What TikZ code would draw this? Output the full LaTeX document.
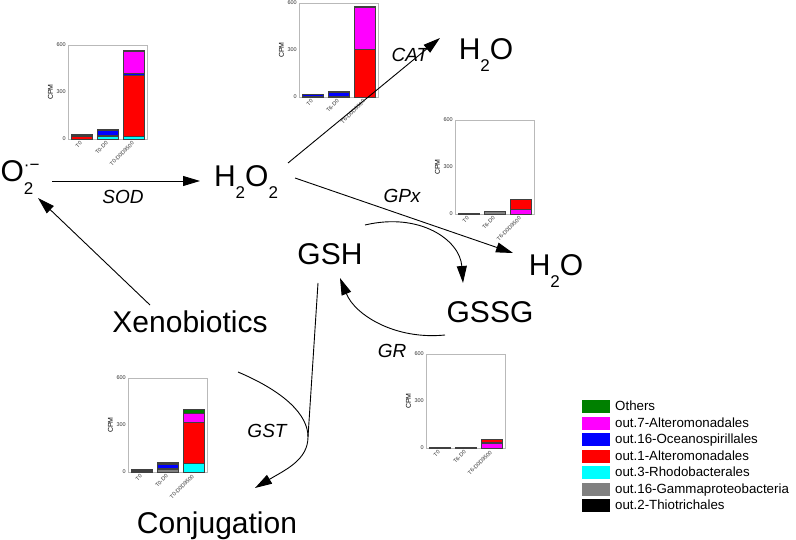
\documentclass[tikz,border=0pt]{standalone}
\usepackage{fontspec}
\setmainfont{Liberation Sans}
\usepackage{xcolor}
\definecolor{OtuGreen}{RGB}{0,128,0}
\definecolor{OtuMagenta}{RGB}{255,0,255}
\definecolor{OtuBlue}{RGB}{0,0,255}
\definecolor{OtuRed}{RGB}{255,0,0}
\definecolor{OtuCyan}{RGB}{0,255,255}
\definecolor{OtuGray}{RGB}{128,128,128}
\usetikzlibrary{positioning}
\usetikzlibrary{arrows.meta}

\newcommand{\lowtxt}[2][12pt]{\raisebox{-#1}{\fontsize{17}{17}\selectfont #2}}
\newcommand{\hightxt}[1]{\raisebox{11pt}{\fontsize{17}{17}\selectfont #1}}

\newcommand{\cpmchart}[4]{%
  \begin{scope}[shift={#2}, y=0.1567pt]
    \draw[plotframe] (0,0) rectangle (79,600);
    \node[cpm] (#1-cpm) at (-17.5,300) {CPM};
    \foreach \v in {0,300,600}
      \node[ticklab] (#1-t\v) at (-1,\v) {\v};
    \foreach \bx/\lo/\hi/\col in {#4}
      \filldraw[barseg, fill=\col] (\bx,\lo) rectangle (\bx+21,\hi);
    \node[samp] (#1-s1) at ([yshift=-3pt]13.5,0) {T0};
    \node[samp] (#1-s2) at ([yshift=-3pt]39.5,0) {#3-D0};
    \node[samp] (#1-s3) at ([yshift=-3pt]65.5,0) {#3-D0D9500};
  \end{scope}}

\begin{document}
\begin{tikzpicture}[
      , x=1pt, y=-1pt
      , chem/.style={font=\fontsize{30}{36}\selectfont, inner sep=0pt, anchor=base}
      , enz/.style={font=\fontsize{19}{22}\selectfont\itshape, inner sep=0pt}
      , rxn/.style={-{Triangle[length=17pt,width=10pt]}, line width=0.9pt}
      , plotframe/.style={draw=gray!55, line width=0.8pt, fill=white}
      , barseg/.style={draw=black!75, line width=0.4pt}
      , ticklab/.style={font=\fontsize{5.5}{6}\selectfont, inner sep=1pt, anchor=east, text=black!80}
      , cpm/.style={font=\fontsize{7}{8}\selectfont, inner sep=0pt, rotate=90}
      , samp/.style={font=\fontsize{5.5}{6}\selectfont, inner sep=0.5pt, rotate=45, anchor=east, text=black!80}
      , swatch/.style={fill=#1, draw=white, line width=1pt, minimum width=29pt, minimum height=14pt, inner sep=0pt, anchor=north west}
      , legtext/.style={font=\fontsize{13.3}{15}\selectfont, inner sep=0pt, anchor=base west}
      ]

      \useasboundingbox (0,0) rectangle (796,540);

      \node[chem] (O2) at (20,182) {O\rlap{\lowtxt[13pt]{2}}\hightxt{·−}};
      \node[chem] (H2O2) at (246,187) {H\lowtxt{2}O\lowtxt{2}};
      \node[chem] (H2Oa) at (486,60) {H\lowtxt{2}O};
      \node[chem] (H2Ob) at (556,276) {H\lowtxt{2}O};
      \node[chem] (GSH) at (330,265) {GSH};
      \node[chem] (GSSG) at (490,323) {GSSG};
      \node[chem] (Xeno) at (190,333) {Xenobiotics};
      \node[chem] (Conj) at (217,533) {Conjugation};

      \node[enz] (SOD) at (123,197) {SOD};
      \node[enz] (CAT) at (410,55) {CAT};
      \node[enz] (GPx) at (402,196) {GPx};
      \node[enz] (GR) at (392,351) {GR};
      \node[enz] (GST) at (267,431) {GST};

      \cpmchart{sod}{(68,139)}{T0}{3/0/15/OtuRed, 3/15/20/OtuGray, 3/20/27/OtuBlue, 3/27/32/black,
        29/0/18/OtuCyan, 29/18/22/OtuRed, 29/22/26/OtuGray, 29/26/55/OtuBlue, 29/55/60/black, 29/60/64/OtuGreen,
        55/0/20/OtuCyan, 55/20/410/OtuRed, 55/410/418/OtuBlue, 55/418/560/OtuMagenta, 55/560/565/OtuGray}
      \cpmchart{cat}{(299,97)}{T6}{3/0/4/OtuRed, 3/4/16/OtuBlue, 3/16/19/black,
        29/0/5/black, 29/5/30/OtuBlue, 29/30/35/OtuGray,
        55/0/305/OtuRed, 55/305/575/OtuMagenta, 55/575/580/OtuGray}
      \cpmchart{gpx}{(455,214)}{T6}{3/0/5/black, 29/0/18/OtuGray, 55/0/30/OtuMagenta, 55/30/93/OtuRed}
      \cpmchart{gr}{(426,448)}{T6}{3/0/4/OtuGray, 29/0/8/OtuBlue, 55/0/32/OtuMagenta, 55/32/36/black, 55/36/57/OtuRed}
      \cpmchart{gst}{(128,472)}{T0}{3/0/8/OtuGray, 3/8/12/black, 3/12/16/OtuGreen,
        29/0/20/OtuGray, 29/20/26/OtuCyan, 29/26/52/OtuBlue, 29/52/58/black, 29/58/64/OtuGreen,
        55/0/57/OtuCyan, 55/57/319/OtuRed, 55/319/377/OtuMagenta, 55/377/400/OtuGreen}

      \draw[rxn] ([shift={(32,-1)}]O2.base) -- ([shift={(-46,-6)}]H2O2.base);
      \draw[rxn] ([shift={(42,-24)}]H2O2.base) -- ([shift={(-46,-22)}]H2Oa.base);
      \draw[rxn] ([shift={(49,-9)}]H2O2.base) -- ([shift={(-43,-23)}]H2Ob.base);
      \draw[rxn] ([shift={(35,-40)}]GSH.base) .. controls +(55,-13) and +(-3,-43) .. ([shift={(-27,-40)}]GSSG.base);
      \draw[rxn] ([shift={(-45,12)}]GSSG.base) .. controls +(-50,5) and +(15,37) .. ([shift={(10,13)}]GSH.base);
      \draw[rxn] ([shift={(-40,-28)}]Xeno.base) -- ([shift={(18,16)}]O2.base);

      \coordinate (gst-join) at ([shift={(91,-96)}]Conj.base);
      \draw[line width=0.9pt] ([shift={(-12,18)}]GSH.base) -- (gst-join);
      \draw[rxn] ([shift={(48,39)}]Xeno.base) .. controls +(47,20) and +(0,-22) .. (gst-join)
        .. controls +(0,23) and +(30,-18) .. ([shift={(38,-45)}]Conj.base);

      \foreach \col/\txt [count=\i from 0] in {OtuGreen/Others, OtuMagenta/out.7-Alteromonadales,
        OtuBlue/out.16-Oceanospirillales, OtuRed/out.1-Alteromonadales, OtuCyan/out.3-Rhodobacterales,
        OtuGray/out.16-Gammaproteobacteria, black/out.2-Thiotrichales} {
        \node[swatch=\col] (sw-\i) at (581,399+16.5*\i) {};
        \node[legtext] (lab-\i) at (615,399+16.5*\i+11.5) {\txt};
      }
    \end{tikzpicture}
\end{document}
